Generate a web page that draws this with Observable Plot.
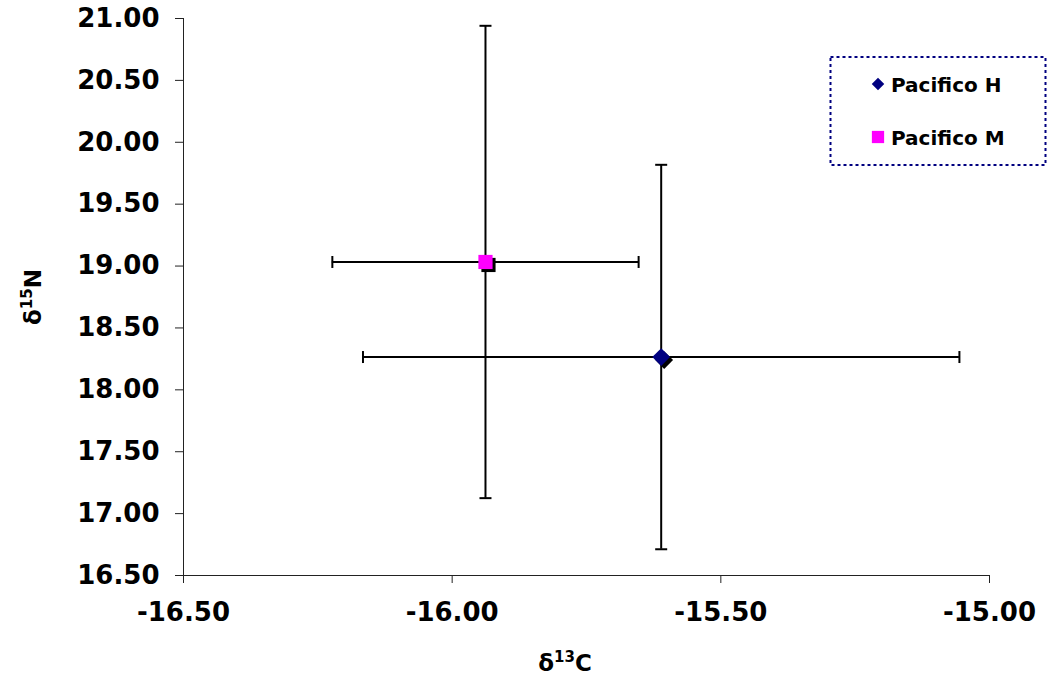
<!DOCTYPE html>
<html><head><meta charset="utf-8">
<script src="https://cdn.jsdelivr.net/npm/d3@7"></script>
<script src="https://cdn.jsdelivr.net/npm/@observablehq/plot@0.6"></script>
<style>body{margin:0;background:#fff;}</style>
</head><body><div id="chart"></div>
<script>
const series = ["Pacifico H", "Pacifico M"];
const d13C = [-15.611, -15.938];
const d15N = [18.265, 19.033];
const sdC = [0.555, 0.285];
const sdN = [1.553, 1.908];
const colors = ["#000080", "#FF00FF"];
const symbols = ["diamond2", "square"];
const xTicks = [-16.5, -16, -15.5, -15];
const yTicks = [16.5, 17, 17.5, 18, 18.5, 19, 19.5, 20, 20.5, 21];

const data = series.map((s, i) => ({s, c: d13C[i], n: d15N[i], ec: sdC[i], en: sdN[i]}));
const capsV = data.flatMap(d => [{x: d.c - d.ec, y: d.n}, {x: d.c + d.ec, y: d.n}]);
const capsH = data.flatMap(d => [{x: d.c, y: d.n - d.en}, {x: d.c, y: d.n + d.en}]);
const vline = {draw(ctx) { ctx.moveTo(0, -6); ctx.lineTo(0, 6); }};
const hline = {draw(ctx) { ctx.moveTo(-6, 0); ctx.lineTo(6, 0); }};
const FONT = "'DejaVu Sans', Verdana, sans-serif";

const chart = Plot.plot({
  width: 1047, height: 690,
  marginLeft: 183, marginRight: 58, marginTop: 18, marginBottom: 115,
  style: {fontFamily: FONT, fontWeight: "bold", background: "white", color: "black"},
  x: {domain: [-16.5, -15]},
  y: {domain: [16.5, 21]},
  color: {domain: series, range: colors},
  symbol: {domain: series, range: symbols},
  marks: [
    Plot.axisX({ticks: xTicks, tickSize: 8, tickPadding: 19, tickFormat: d => d.toFixed(2), fontSize: 26, label: null, stroke: "#222"}),
    Plot.axisY({ticks: yTicks, tickSize: 8, tickPadding: 16, tickFormat: d => d.toFixed(2), fontSize: 26, label: null, stroke: "#222"}),
    Plot.ruleX([-16.5], {stroke: "#222", strokeWidth: 1}),
    Plot.ruleY([16.5], {stroke: "#222", strokeWidth: 1}),
    Plot.ruleY(data, {y: "n", x1: d => d.c - d.ec, x2: d => d.c + d.ec, stroke: "black", strokeWidth: 2}),
    Plot.ruleX(data, {x: "c", y1: d => d.n - d.en, y2: d => d.n + d.en, stroke: "black", strokeWidth: 2}),
    Plot.dot(capsV, {x: "x", y: "y", symbol: vline, fill: "none", stroke: "black", strokeWidth: 2}),
    Plot.dot(capsH, {x: "x", y: "y", symbol: hline, fill: "none", stroke: "black", strokeWidth: 2}),
    Plot.dot(data, {x: "c", y: "n", symbol: "s", r: 8, fill: "black", stroke: "none", dx: 3, dy: 3}),
    Plot.dot(data, {x: "c", y: "n", symbol: "s", r: 8, fill: "s", stroke: "none"})
  ]
});
document.getElementById("chart").appendChild(chart);

const svg = d3.select(chart);
// Axis titles with superscripts
const xt = svg.append("text").attr("x", 565).attr("y", 671).attr("text-anchor", "middle")
  .style("font-family", FONT).style("font-weight", "bold").style("font-size", "23px").attr("fill", "black");
xt.append("tspan").text("δ");
xt.append("tspan").attr("dy", -9).style("font-size", "15px").text("13");
xt.append("tspan").attr("dy", 9).text("C");

const yt = svg.append("text").attr("transform", "translate(41,297) rotate(-90)").attr("text-anchor", "middle")
  .style("font-family", FONT).style("font-weight", "bold").style("font-size", "23px").attr("fill", "black");
yt.append("tspan").text("δ");
yt.append("tspan").attr("dy", -9).style("font-size", "15px").text("15");
yt.append("tspan").attr("dy", 9).text("N");

// Legend
const lg = svg.append("g").attr("text-anchor", "start");
lg.append("rect").attr("x", 830.5).attr("y", 57).attr("width", 215).attr("height", 108)
  .attr("fill", "white").attr("stroke", "#000080").attr("stroke-width", 2).attr("stroke-dasharray", "3,3");
series.forEach((s, i) => {
  const cy = [84, 137][i];
  const type = i === 0 ? d3.symbolDiamond2 : d3.symbolSquare;
  const size = i === 0 ? 100 : 150;
  lg.append("path").attr("d", d3.symbol(type, size)()).attr("transform", `translate(878,${cy})`).attr("fill", colors[i]);
  lg.append("text").attr("x", 891).attr("y", cy + 8).attr("text-anchor", "start").text(s)
    .style("font-family", FONT).style("font-weight", "bold").style("font-size", "20px").attr("fill", "black");
});
</script>
</body></html>
